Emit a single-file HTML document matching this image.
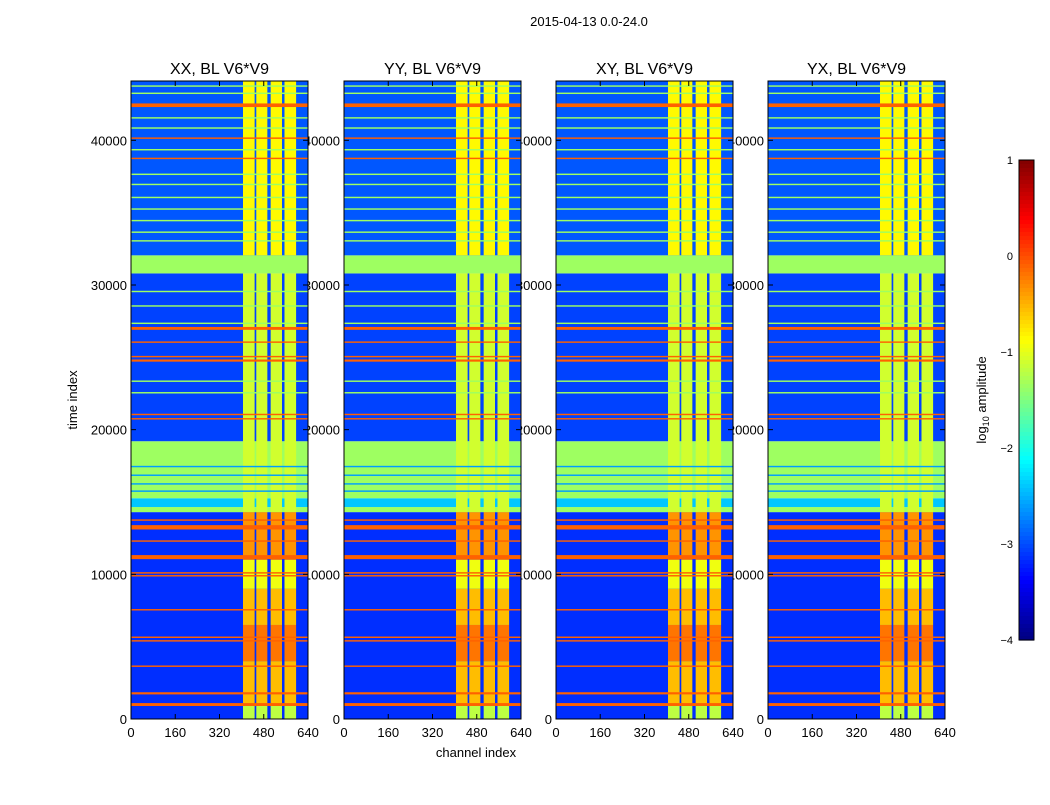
<!DOCTYPE html>
<html><head><meta charset="utf-8"><style>
body{margin:0;background:#fff;}
svg text{font-family:"Liberation Sans",sans-serif;}
</style></head><body>
<svg id="fig" width="1050" height="800" xmlns="http://www.w3.org/2000/svg">
<rect width="1050" height="800" fill="#fff"/>
<text x="589" y="26" font-size="13" text-anchor="middle">2015-04-13 0.0-24.0</text>
<text transform="translate(77,400) rotate(-90)" font-size="13" text-anchor="middle">time index</text>
<text x="476" y="757" font-size="13" text-anchor="middle">channel index</text>
<g id="panels"></g>
<g id="cbar"></g>
</svg>
<script>
const panelTitles=["XX, BL V6*V9","YY, BL V6*V9","XY, BL V6*V9","YX, BL V6*V9"];
const xTicks=[0,160,320,480,640];
const yTicks=[0,10000,20000,30000,40000];
const cbTicks=[1,0,-1,-2,-3,-4];
// background (noise) level per time segment [t0,t1,log10 amp]
const bgStart=[0,14300,14650,15260,19200,30800,32050];
const bgEnd  =[14300,14650,15260,19200,30800,32050,44100];
const bgVal  =[-3.15,-1.35,-2.4,-1.35,-3.05,-1.35,-2.95];
// signal channel columns
const colStart=[405,453,505,555];
const colEnd  =[447,493,546,597];
// signal level per time segment
const sigStart=[0,1000,4000,6500,9000,11000,14300,32050];
const sigEnd  =[1000,4000,6500,9000,11000,14300,30800,44100];
const sigVal  =[-1.2,-0.55,-0.2,-0.55,-0.95,-0.35,-1.1,-0.85];
// flagged full-width rows [start,end,value]
const flagStart=[900,1700,3600,5350,5600,7500,9850,10050,11050,12250,13100,13700,17400,16800,16200,15700,20700,21000,22500,23300,24700,25000,26000,26900,27300,28500,29500,33000,33600,34400,35200,36000,36900,37600,38700,39300,40100,40800,41500,42300,43200,43700];
const flagEnd  =[1100,1850,3700,5450,5700,7600,9950,10150,11330,12350,13400,13800,17500,16900,16300,15800,20800,21100,22600,23400,24850,25100,26100,27100,27400,28600,29600,33100,33700,34500,35300,36100,37000,37700,38800,39400,40200,40900,41600,42550,43300,43800];
const flagVal  =[-0.1,-0.1,-0.1,-0.1,-0.1,-0.1,-0.1,-0.1,-0.1,-0.1,-0.1,-0.1,-2.6,-2.6,-2.6,-2.6,-0.1,-0.1,-1.35,-1.35,-0.1,-0.1,-0.1,-0.1,-1.35,-1.35,-1.35,-1.35,-1.35,-1.35,-1.35,-1.35,-1.35,-1.35,-0.1,-1.35,-0.1,-1.35,-1.35,-0.1,-1.35,-1.35];

const NS="http://www.w3.org/2000/svg";
const panelX=[131,344,556,768], PW=177, PT=81, PH=638, TMAX=44100, VMIN=-4, VMAX=1;
function jet(v){let x=(v-VMIN)/(VMAX-VMIN);x=Math.max(0,Math.min(1,x));
 const c=t=>Math.round(255*Math.max(0,Math.min(1,1.5-Math.abs(t))));
 return `rgb(${c(4*x-3)},${c(4*x-2)},${c(4*x-1)})`;}
function mk(tag,at,parent){const e=document.createElementNS(NS,tag);for(const k in at)e.setAttribute(k,at[k]);parent.appendChild(e);return e;}
const P=document.getElementById('panels');
const labels=mk('g',{},P), imgs=mk('g',{},P);
panelX.forEach((px,pi)=>{
 const xs=ch=>px+ch/640*PW, ys=t=>PT+PH-t/TMAX*PH;
 const g=mk('g',{},imgs);
 
 
 bgStart.forEach((s,i)=>{const r=mk('rect',{x:px,y:ys(bgEnd[i]),width:PW,height:ys(s)-ys(bgEnd[i]),fill:jet(bgVal[i])},g);
  });
 sigStart.forEach((s,i)=>{colStart.forEach((c,j)=>{
  const r=mk('rect',{x:xs(c),y:ys(sigEnd[i]),width:xs(colEnd[j])-xs(c),height:ys(s)-ys(sigEnd[i]),fill:jet(sigVal[i])},g);
  });});
 flagStart.forEach((s,i)=>{const h=Math.max(1.2,ys(s)-ys(flagEnd[i]));
  const r=mk('rect',{x:px,y:ys(flagEnd[i]),width:PW,height:h,fill:jet(flagVal[i])},g);
  });
 const fr=mk('rect',{x:px,y:PT,width:PW,height:PH,fill:'none',stroke:'#000','stroke-width':1},g);
 
 const tt=mk('text',{x:px+PW/2,y:74,'font-size':16,'text-anchor':'middle'},g);tt.textContent=panelTitles[pi];
 
 xTicks.forEach(v=>{const t=mk('text',{x:xs(v),y:737,'font-size':13,'text-anchor':'middle'},g);t.textContent=v;
  
  mk('line',{x1:xs(v),x2:xs(v),y1:PT+PH,y2:PT+PH-5,stroke:'#000'},g);mk('line',{x1:xs(v),x2:xs(v),y1:PT,y2:PT+5,stroke:'#000'},g);});
 yTicks.forEach(v=>{const t=mk('text',{x:px-4,y:ys(v)+5,'font-size':13,'text-anchor':'end'},labels);t.textContent=v;
  
  mk('line',{x1:px,x2:px+5,y1:ys(v),y2:ys(v),stroke:'#000'},g);mk('line',{x1:px+PW,x2:px+PW-5,y1:ys(v),y2:ys(v),stroke:'#000'},g);});
});
// colorbar
const C=document.getElementById('cbar');

const CX=1019,CW=15,CT=160,CH=480;
for(let i=0;i<120;i++){const v=VMAX-(i+0.5)/120*(VMAX-VMIN);
 mk('rect',{x:CX,y:CT+i*CH/120,width:CW,height:CH/120+0.6,fill:jet(v)},C);}
mk('rect',{x:CX,y:CT,width:CW,height:CH,fill:'none',stroke:'#000'},C);
cbTicks.forEach(v=>{const y=CT+(VMAX-v)/(VMAX-VMIN)*CH;
 const t=mk('text',{x:1013,y:y+4,'font-size':11,'text-anchor':'end'},C);t.textContent=v<0?'\u2212'+(-v):v;
 });
const cl=mk('text',{transform:'translate(986,400) rotate(-90)','font-size':13,'text-anchor':'middle'},C);
cl.innerHTML='log<tspan font-size="9" dy="3">10</tspan><tspan dy="-3"> amplitude</tspan>';

</script>
</body></html>
